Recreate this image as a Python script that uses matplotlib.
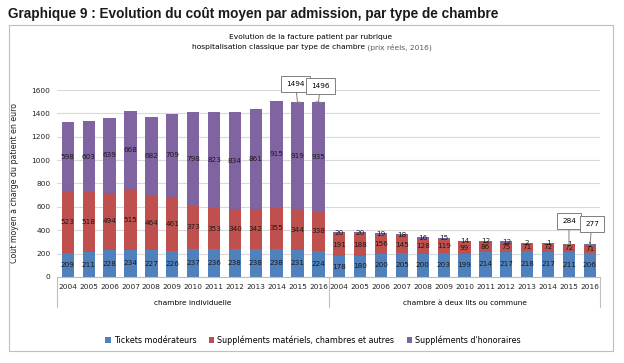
import numpy as np
import matplotlib.pyplot as plt
import matplotlib.transforms as mtransforms

years = ['2004', '2005', '2006', '2007', '2008', '2009', '2010',
         '2011', '2012', '2013', '2014', '2015', '2016']
groups = ['chambre individuelle', 'chambre à deux lits ou commune']

tickets_ind = [209, 211, 228, 234, 227, 226, 237, 236, 238, 238, 238, 231, 224]
materiel_ind = [523, 518, 494, 515, 464, 461, 373, 353, 340, 342, 355, 344, 338]
honoraires_ind = [598, 603, 639, 668, 682, 709, 798, 823, 834, 861, 915, 919, 935]

tickets_dbl = [178, 180, 200, 205, 200, 203, 199, 214, 217, 218, 217, 211, 206]
materiel_dbl = [191, 188, 156, 145, 128, 119, 99, 86, 75, 71, 72, 72, 71]
honoraires_dbl = [20, 20, 19, 18, 16, 15, 14, 12, 12, 2, 1, 1, 1]

# totals shown in callouts: bar index, value
callout_idx = [11, 12, 24, 25]
callout_val = [1494, 1496, 284, 277]
# where each callout box sits relative to its bar (x in bars, y in euros)
callout_off = [(-0.1, 157), (0.1, 134), (0.0, 195), (0.1, 172)]

blue = '#4F81BD'
red = '#C0504D'
purple = '#8064A2'

tickets = np.array(tickets_ind + tickets_dbl)
materiel = np.array(materiel_ind + materiel_dbl)
honoraires = np.array(honoraires_ind + honoraires_dbl)
x = np.arange(len(tickets))

fig = plt.figure(figsize=(6.24, 3.63), dpi=100)
ax = fig.add_axes([0.092, 0.237, 0.870, 0.515])

w = 0.59
b1 = ax.bar(x, tickets, w, color=blue, label='Tickets modérateurs', zorder=2)
b2 = ax.bar(x, materiel, w, bottom=tickets, color=red,
            label='Suppléments matériels, chambres et autres', zorder=2)
b3 = ax.bar(x, honoraires, w, bottom=tickets + materiel, color=purple,
            label="Suppléments d'honoraires", zorder=2)

for bars in (b1, b2, b3):
    ax.bar_label(bars, label_type='center', fontsize=5.2, color='#1a1a1a')

for i, tot, (dx, dy) in zip(callout_idx, callout_val, callout_off):
    top = tickets[i] + materiel[i] + honoraires[i]
    ax.annotate(str(tot), xy=(i, top), xytext=(i + dx, top + dy),
                ha='center', va='center', fontsize=5.2, annotation_clip=False,
                bbox=dict(boxstyle='square,pad=0.7', fc='white', ec='#7f7f7f', lw=0.7),
                arrowprops=dict(arrowstyle='-[, widthB=0.35, lengthB=0.25',
                                color='#7f7f7f', lw=0.7, shrinkA=0, shrinkB=0))

ax.set_ylim(0, 1600)
ax.set_xlim(-0.5, len(x) - 0.5)
ax.set_yticks(range(0, 1601, 200))
ax.yaxis.grid(True, color='#d9d9d9', lw=0.8, zorder=0)
ax.set_axisbelow(True)
for s in ['top', 'right', 'left']:
    ax.spines[s].set_visible(False)
ax.spines['bottom'].set_color('#bfbfbf')
ax.set_xticks(x)
ax.set_xticklabels(years + years)
ax.tick_params(axis='x', length=0, pad=5, labelsize=5.3, colors='#222222')
ax.tick_params(axis='y', length=0, pad=5, labelsize=5.3, colors='#222222')
ax.set_ylabel('Coût moyen à charge du patient en euro', fontsize=5.7, labelpad=9,
              color='#222222')

# group separators and labels under the years
trans = mtransforms.blended_transform_factory(ax.transData, ax.transAxes)
for xs in (-0.5, 12.5, 25.5):
    ax.plot([xs, xs], [0, -0.16], transform=trans, color='#bfbfbf', lw=0.8,
            clip_on=False)
ax.text(6, -0.137, groups[0], transform=trans, ha='center', va='center', fontsize=5.3)
ax.text(19, -0.137, groups[1], transform=trans, ha='center', va='center', fontsize=5.3)

# frame of the chart
fig.patches.append(plt.Rectangle((9 / 624, 1 - 351 / 363), 604 / 624, 326 / 363,
                                 transform=fig.transFigure, fill=False,
                                 ec='#bfbfbf', lw=0.8))

fig.text(8 / 624, 1 - 14 / 363, 'Graphique 9 : Evolution du coût moyen par admission, par type de chambre',
         fontsize=9.8, fontweight='bold', family=['Liberation Sans', 'DejaVu Sans'],
         va='center', ha='left', color='#1a1a1a')
fig.text(311 / 624, 1 - 37 / 363, 'Evolution de la facture patient par rubrique',
         fontsize=5.4, ha='center', va='center')
fig.text(365 / 624, 1 - 47 / 363, 'hospitalisation classique par type de chambre',
         fontsize=5.4, ha='right', va='center')
fig.text(365 / 624, 1 - 47 / 363, ' (prix réels, 2016)', fontsize=5.4,
         ha='left', va='center', color='#595959')

fig.legend(handles=[b1, b2, b3], loc='center', bbox_to_anchor=(313 / 624, 1 - 340 / 363),
           ncol=3, frameon=False, fontsize=5.8, handlelength=0.7, handleheight=0.7,
           handletextpad=0.4, columnspacing=1.5)

fig.savefig('out.png', dpi=100)
